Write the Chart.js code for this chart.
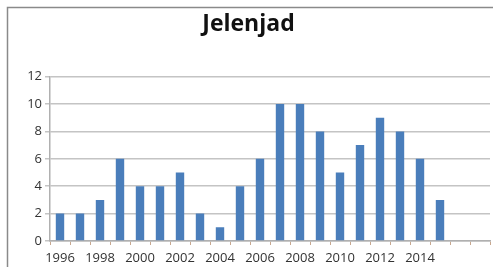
<!DOCTYPE html>
<html>
<head>
<meta charset="utf-8">
<script src="https://cdn.jsdelivr.net/npm/chart.js@4/dist/chart.umd.min.js"></script>
<style>
  html, body { margin: 0; padding: 0; background: #fff; }
  #wrap { width: 493px; height: 267px; position: relative; }
</style>
</head>
<body>
<div id="wrap"><canvas id="chart" width="493" height="267"></canvas></div>
<script>
const years = ["1996","1997","1998","1999","2000","2001","2002","2003","2004","2005","2006",
  "2007","2008","2009","2010","2011","2012","2013","2014","2015","2016","2017"]
const tickLabels = ["1996","","1998","","2000","","2002","","2004","","2006",
  "","2008","","2010","","2012","","2014","","",""]
const counts = [2, 2, 3, 6, 4, 4, 5, 2, 1, 4, 6, 10, 10, 8, 5, 7, 9, 8, 6, 3, null, null]
const yTicks = [0, 2, 4, 6, 8, 10, 12]

const frame = {
  id: "frame",
  beforeDraw(chart) {
    const ctx = chart.ctx
    ctx.save()
    ctx.fillStyle = "#fff"
    ctx.fillRect(0, 0, chart.width, chart.height)
    ctx.strokeStyle = "#8a8a8a"
    ctx.lineWidth = 1.5
    ctx.strokeRect(7.5, 7.5, chart.width + 10, chart.height + 10)
    ctx.restore()
  }
}

new Chart(document.getElementById("chart"), {
  type: "bar",
  data: {
    labels: years,
    datasets: [{
      data: counts,
      backgroundColor: "#4a7ebb",
      barPercentage: 0.42,
      categoryPercentage: 1
    }]
  },
  options: {
    responsive: false,
    animation: false,
    layout: { padding: { left: 7, right: 3, top: 0, bottom: 0 } },
    plugins: {
      legend: { display: false },
      tooltip: { enabled: false },
      title: {
        display: true,
        text: "Jelenjad",
        color: "#111",
        font: { family: "Open Sans", size: 23, weight: "bold" },
        padding: { top: 11, bottom: 38 }
      }
    },
    scales: {
      x: {
        offset: true,
        grid: {
          offset: true,
          drawOnChartArea: false,
          drawTicks: true,
          tickLength: 4,
          color: "#c8a890"
        },
        border: { color: "#b0b0b0", width: 1.5 },
        ticks: {
          autoSkip: false,
          maxRotation: 0,
          padding: 5,
          color: "#333",
          font: { family: "Open Sans", size: 13 },
          callback: (value, index) => tickLabels[index]
        },
        afterFit(scale) { scale.height = 26 }
      },
      y: {
        min: 0,
        max: 12,
        afterBuildTicks(scale) { scale.ticks = yTicks.map(v => ({ value: v })) },
        grid: {
          color: "#c4c4c4",
          lineWidth: 1.5,
          tickLength: 5
        },
        border: { color: "#b0b0b0", width: 1.5 },
        ticks: {
          padding: 3,
          color: "#333",
          font: { family: "Open Sans", size: 13 }
        },
        afterFit(scale) { scale.width = 43 }
      }
    }
  },
  plugins: [frame]
})
</script>
</body>
</html>
